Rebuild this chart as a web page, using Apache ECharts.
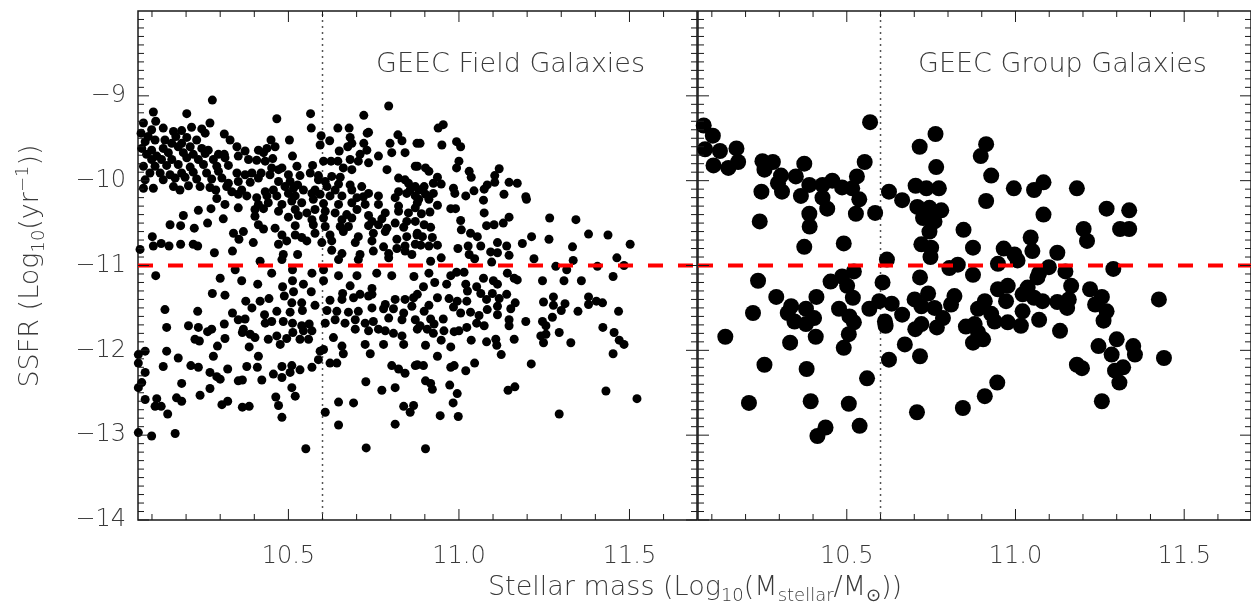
<!DOCTYPE html>
<html>
<head>
<meta charset="utf-8">
<title>GEEC SSFR vs stellar mass</title>
<script src="https://cdn.jsdelivr.net/npm/echarts@6/dist/echarts.min.js"></script>
<style>
  html, body { margin: 0; padding: 0; background: #ffffff; }
  #chart { width: 1251px; height: 608px; }
</style>
</head>
<body>
<div id="chart"></div>
<script>
// ---- axis ranges and ticks ----
const massRange = [10.059, 11.698];
const ssfrRange = [-14, -8];
const massMajorTicks = [10.5, 11.0, 11.5];
const massMinorTicks = [10.1, 10.2, 10.3, 10.4, 10.6, 10.7, 10.8, 10.9, 11.1, 11.2, 11.3, 11.4, 11.6];
const ssfrMajorTicks = [-14, -13, -12, -11, -10, -9];
const ssfrMinorTicks = [
  -13.9, -13.8, -13.7, -13.6, -13.5, -13.4, -13.3, -13.2, -13.1,
  -12.9, -12.8, -12.7, -12.6, -12.5, -12.4, -12.3, -12.2, -12.1,
  -11.9, -11.8, -11.7, -11.6, -11.5, -11.4, -11.3, -11.2, -11.1,
  -10.9, -10.8, -10.7, -10.6, -10.5, -10.4, -10.3, -10.2, -10.1,
  -9.9, -9.8, -9.7, -9.6, -9.5, -9.4, -9.3, -9.2, -9.1,
  -8.9, -8.8, -8.7, -8.6, -8.5, -8.4, -8.3, -8.2, -8.1
];

// ---- reference cuts ----
const massCut = 10.6;   // dotted vertical line
const ssfrCut = -11;    // red dashed line (passive / star-forming divide)

const panelTitles = ['GEEC Field Galaxies', 'GEEC Group Galaxies'];

// ---- field galaxies: [log stellar mass, log SSFR] ----
const fieldGalaxies = [
  [10.277,-9.05],[10.794,-9.12],[10.104,-9.19],[10.202,-9.21],[10.565,-9.21],[10.721,-9.23],[10.466,-9.27],[10.075,-9.32],[10.111,-9.30],[10.270,-9.32],
  [10.099,-9.40],[10.133,-9.38],[10.163,-9.42],[10.187,-9.41],[10.216,-9.37],[10.246,-9.39],[10.567,-9.38],[10.645,-9.38],[10.678,-9.38],
  [10.068,-9.44],[10.089,-9.48],[10.170,-9.48],[10.202,-9.49],[10.256,-9.44],[10.312,-9.45],[10.596,-9.47],[10.681,-9.49],[10.731,-9.44],[10.821,-9.46],[10.735,-9.43],
  [10.080,-9.54],[10.109,-9.52],[10.138,-9.52],[10.158,-9.56],[10.187,-9.56],[10.231,-9.52],[10.329,-9.52],[10.449,-9.52],[10.503,-9.52],[10.621,-9.53],[10.593,-9.58],[10.686,-9.56],[10.721,-9.56],[10.798,-9.56],[10.833,-9.53],[10.877,-9.56],
  [10.070,-9.62],[10.099,-9.64],[10.133,-9.62],[10.177,-9.60],[10.212,-9.60],[10.246,-9.62],[10.265,-9.64],[10.349,-9.60],[10.412,-9.64],[10.437,-9.62],[10.461,-9.60],[10.674,-9.60],[10.730,-9.64],[10.649,-9.65],
  [10.084,-9.69],[10.114,-9.71],[10.148,-9.67],[10.192,-9.67],[10.221,-9.69],[10.256,-9.68],[10.295,-9.69],[10.312,-9.69],[10.373,-9.65],[10.353,-9.71],[10.427,-9.67],[10.710,-9.69],[10.764,-9.71],[10.842,-9.67],[10.803,-9.67],
  [10.099,-9.75],[10.128,-9.75],[10.158,-9.75],[10.202,-9.73],[10.236,-9.75],[10.280,-9.75],[10.314,-9.73],[10.383,-9.75],[10.407,-9.76],[10.432,-9.77],[10.454,-9.74],[10.512,-9.71],[10.603,-9.77],[10.625,-9.77],[10.645,-9.77],[10.681,-9.75],[10.705,-9.77],
  [10.075,-9.83],[10.109,-9.83],[10.143,-9.82],[10.177,-9.81],[10.212,-9.84],[10.251,-9.81],[10.290,-9.83],[10.324,-9.82],[10.451,-9.85],[10.481,-9.85],[10.525,-9.83],[10.571,-9.82],[10.661,-9.85],[10.686,-9.87],[10.789,-9.87],[10.735,-9.79],[10.872,-9.83],
  [10.094,-9.91],[10.124,-9.91],[10.153,-9.93],[10.187,-9.91],[10.221,-9.90],[10.260,-9.91],[10.295,-9.89],[10.349,-9.91],[10.373,-9.93],[10.393,-9.91],[10.420,-9.91],[10.446,-9.93],[10.471,-9.87],[10.500,-9.93],[10.534,-9.94],[10.564,-9.91],[10.588,-9.94],[10.627,-9.95],[10.652,-9.96],[10.823,-9.97],[10.842,-9.99],
  [10.080,-9.99],[10.133,-9.99],[10.168,-9.97],[10.197,-9.96],[10.231,-9.98],[10.275,-9.98],[10.305,-9.97],[10.324,-10.03],[10.353,-10.01],[10.388,-10.02],[10.412,-9.97],[10.471,-10.01],[10.505,-10.01],[10.527,-10.05],[10.588,-9.99],[10.608,-10.01],[10.647,-10.04],[10.681,-10.05],[10.715,-10.07],[10.852,-10.03],[10.872,-10.07],
  [10.075,-10.09],[10.104,-10.09],[10.163,-10.07],[10.182,-10.11],[10.207,-10.06],[10.241,-10.07],[10.270,-10.08],[10.287,-10.11],[10.319,-10.07],[10.334,-10.13],[10.363,-10.11],[10.432,-10.13],[10.456,-10.11],[10.490,-10.07],[10.515,-10.09],[10.544,-10.11],[10.578,-10.11],[10.613,-10.07],[10.637,-10.11],[10.686,-10.11],[10.735,-10.15],[10.823,-10.13],[10.857,-10.11],
  [10.290,-10.21],[10.353,-10.16],[10.378,-10.18],[10.407,-10.20],[10.437,-10.18],[10.466,-10.18],[10.500,-10.15],[10.520,-10.18],[10.569,-10.15],[10.593,-10.16],[10.622,-10.18],[10.657,-10.18],[10.701,-10.20],[10.720,-10.19],[10.764,-10.18],[10.813,-10.20],[10.847,-10.15],[10.872,-10.18],[10.882,-10.22],
  [10.412,-10.28],[10.441,-10.26],[10.481,-10.28],[10.510,-10.24],[10.539,-10.26],[10.573,-10.22],[10.603,-10.27],[10.647,-10.28],[10.686,-10.26],[10.725,-10.28],[10.764,-10.28],[10.823,-10.30],[10.872,-10.32],[10.353,-10.32],[10.314,-10.28],
  [10.236,-10.35],[10.273,-10.33],[10.402,-10.34],[10.427,-10.33],[10.471,-10.36],[10.520,-10.34],[10.554,-10.38],[10.578,-10.34],[10.608,-10.36],[10.637,-10.38],[10.671,-10.40],[10.701,-10.34],[10.735,-10.41],[10.784,-10.38],[10.823,-10.36],[10.852,-10.38],
  [10.192,-10.41],[10.309,-10.45],[10.402,-10.42],[10.500,-10.43],[10.529,-10.41],[10.569,-10.46],[10.603,-10.44],[10.657,-10.46],[10.686,-10.44],[10.745,-10.48],[10.774,-10.45],[10.813,-10.50],[10.847,-10.48],[10.872,-10.48],
  [10.153,-10.52],[10.184,-10.53],[10.224,-10.56],[10.263,-10.50],[10.412,-10.52],[10.461,-10.56],[10.520,-10.53],[10.573,-10.52],[10.608,-10.54],[10.652,-10.54],[10.676,-10.54],[10.735,-10.53],[10.764,-10.52],[10.789,-10.56],[10.838,-10.55],
  [10.101,-10.66],[10.339,-10.62],[10.368,-10.60],[10.427,-10.57],[10.481,-10.64],[10.520,-10.64],[10.539,-10.67],[10.578,-10.62],[10.622,-10.64],[10.661,-10.60],[10.705,-10.66],[10.749,-10.62],[10.784,-10.60],[10.818,-10.69],[10.847,-10.66],[10.877,-10.64],
  [10.104,-10.77],[10.127,-10.74],[10.150,-10.77],[10.184,-10.75],[10.221,-10.75],[10.234,-10.77],[10.355,-10.69],[10.397,-10.73],[10.471,-10.75],[10.495,-10.71],[10.554,-10.71],[10.598,-10.73],[10.627,-10.71],[10.696,-10.73],[10.745,-10.71],[10.779,-10.78],[10.842,-10.77],[10.872,-10.75],
  [10.065,-10.81],[10.283,-10.85],[10.336,-10.83],[10.485,-10.87],[10.527,-10.87],[10.627,-10.82],[10.657,-10.86],[10.710,-10.87],[10.749,-10.83],[10.794,-10.86],[10.818,-10.80],[10.842,-10.83],[10.862,-10.87],
  [10.417,-10.95],[10.481,-10.93],[10.647,-10.93],[10.705,-10.93],[10.794,-10.91],
  [10.939,-9.38],[10.954,-9.34],[10.886,-9.56],[10.950,-9.58],[10.993,-9.54],[11.005,-9.60],[11.000,-9.77],[10.993,-9.85],[10.878,-9.83],[10.902,-9.85],
  [10.912,-9.89],[11.030,-9.89],[11.036,-9.96],[11.118,-9.86],[11.105,-9.94],[10.937,-9.96],[10.948,-10.04],[10.925,-10.03],[10.898,-10.07],[10.883,-10.11],
  [10.902,-10.16],[10.925,-10.15],[10.984,-10.09],[10.988,-10.15],[11.044,-10.12],[11.074,-10.10],[11.083,-10.05],[11.105,-10.02],[11.147,-10.02],[11.171,-10.03],
  [11.132,-10.16],[11.196,-10.19],[11.198,-10.22],[11.020,-10.18],[11.072,-10.23],[10.878,-10.26],[10.912,-10.22],[10.937,-10.29],[10.976,-10.33],[10.990,-10.33],
  [10.890,-10.39],[10.915,-10.37],[11.074,-10.38],[11.147,-10.43],[11.266,-10.44],[11.343,-10.46],[11.005,-10.47],[10.898,-10.52],[10.917,-10.55],[11.081,-10.53],
  [11.103,-10.52],[11.130,-10.50],[11.007,-10.58],[11.034,-10.62],[11.054,-10.66],[10.878,-10.62],[10.893,-10.66],[10.922,-10.67],[10.937,-10.76],[10.912,-10.77],
  [10.888,-10.76],[10.997,-10.80],[11.027,-10.77],[11.064,-10.77],[11.113,-10.73],[11.140,-10.77],[11.186,-10.74],[11.213,-10.66],[11.264,-10.69],[11.380,-10.63],
  [11.437,-10.64],[11.502,-10.75],[11.333,-10.78],[11.030,-10.87],[11.093,-10.84],[11.113,-10.85],[11.147,-10.88],[10.948,-10.91],[10.917,-10.95],[11.046,-10.92],
  [11.220,-10.92],[11.335,-10.94],[11.463,-10.91],[11.096,-10.96],[11.284,-11.01],[11.406,-11.01],[11.484,-11.00],
  [10.111,-11.12],[10.300,-11.15],[10.344,-11.05],[10.451,-11.09],[10.512,-11.05],[10.569,-11.09],[10.603,-11.05],[10.647,-11.12],[10.701,-11.12],[10.759,-11.09],
  [10.803,-11.12],[10.868,-11.13],[10.363,-11.18],[10.410,-11.22],[10.483,-11.25],[10.512,-11.18],[10.544,-11.22],[10.603,-11.18],[10.681,-11.24],[10.745,-11.27],
  [10.277,-11.33],[10.314,-11.35],[10.515,-11.31],[10.567,-11.31],[10.659,-11.33],[10.710,-11.34],[10.735,-11.36],[10.745,-11.34],[10.375,-11.42],[10.417,-11.42],
  [10.443,-11.39],[10.488,-11.36],[10.510,-11.44],[10.539,-11.44],[10.622,-11.41],[10.657,-11.40],[10.691,-11.38],[10.784,-11.46],[10.813,-11.40],[10.842,-11.40],
  [10.867,-11.38],[10.138,-11.52],[10.234,-11.54],[10.336,-11.56],[10.393,-11.50],[10.430,-11.58],[10.466,-11.54],[10.505,-11.55],[10.541,-11.53],[10.578,-11.47],
  [10.613,-11.53],[10.642,-11.54],[10.676,-11.55],[10.705,-11.54],[10.745,-11.50],[10.779,-11.51],[10.808,-11.51],[10.838,-11.56],[10.862,-11.48],[10.207,-11.71],
  [10.143,-11.73],[10.236,-11.73],[10.275,-11.75],[10.312,-11.69],[10.353,-11.64],[10.373,-11.63],[10.368,-11.75],[10.432,-11.68],[10.451,-11.66],[10.485,-11.66],
  [10.512,-11.68],[10.539,-11.71],[10.561,-11.69],[10.608,-11.68],[10.637,-11.64],[10.666,-11.68],[10.696,-11.64],[10.725,-11.68],[10.749,-11.66],[10.764,-11.75],
  [10.794,-11.62],[10.833,-11.64],[10.872,-11.64],[10.263,-11.78],[10.365,-11.79],[10.388,-11.81],[10.402,-11.85],[10.466,-11.83],[10.495,-11.86],[10.513,-11.79],
  [10.544,-11.77],[10.569,-11.77],[10.696,-11.75],[10.735,-11.77],[10.784,-11.77],[10.808,-11.80],[10.833,-11.83],[10.226,-11.87],[10.239,-11.89],[10.314,-11.86],
  [10.441,-11.87],[10.476,-11.93],[10.534,-11.87],[10.559,-11.87],[10.632,-11.85],[10.657,-11.95],[10.725,-11.93],[10.779,-11.93],[10.838,-11.93],[10.060,-12.05],
  [10.080,-12.01],[10.143,-12.01],[10.292,-11.95],[10.385,-11.96],[10.280,-12.07],[10.412,-12.07],[10.593,-12.01],[10.603,-11.99],[10.661,-12.04],[10.740,-12.04],
  [10.177,-12.09],[10.060,-12.15],[10.133,-12.19],[10.214,-12.18],[10.236,-12.20],[10.322,-12.22],[10.378,-12.19],[10.409,-12.20],[10.481,-12.19],[10.510,-12.18],
  [10.534,-12.23],[10.569,-12.20],[10.588,-12.11],[10.622,-12.15],[10.642,-12.15],[10.803,-12.18],[10.823,-12.22],[10.842,-12.27],[10.872,-12.18],[10.080,-12.26],
  [10.270,-12.26],[10.290,-12.31],[10.300,-12.34],[10.353,-12.36],[10.365,-12.35],[10.422,-12.35],[10.456,-12.28],[10.481,-12.32],[10.505,-12.26],[10.070,-12.38],
  [10.187,-12.39],[10.727,-12.37],[10.060,-12.44],[10.270,-12.45],[10.510,-12.44],[10.520,-12.54],[10.241,-12.53],[10.463,-12.55],[10.774,-12.47],[10.813,-12.44],
  [10.080,-12.58],[10.114,-12.57],[10.172,-12.56],[10.187,-12.60],[10.305,-12.64],[10.322,-12.60],[10.471,-12.65],[10.647,-12.61],[10.691,-12.62],[10.109,-12.66],
  [10.127,-12.66],[10.365,-12.67],[10.385,-12.66],[10.146,-12.75],[10.481,-12.79],[10.608,-12.73],[10.838,-12.66],[10.857,-12.73],[10.867,-12.65],[10.060,-12.97],
  [10.099,-13.01],[10.168,-12.98],[10.647,-12.88],[10.813,-12.87],[10.551,-13.16],[10.728,-13.15],
  [10.912,-11.09],[10.976,-11.12],[10.993,-11.08],[11.015,-11.08],[11.072,-11.15],[11.101,-11.18],[11.113,-11.22],[11.142,-11.09],[11.162,-11.15],[11.171,-11.17],
  [11.245,-11.18],[11.308,-11.18],[11.359,-11.18],[11.452,-11.13],[11.316,-11.05],[10.896,-11.25],[10.929,-11.20],[10.964,-11.22],[11.020,-11.22],[11.025,-11.30],
  [11.052,-11.25],[11.064,-11.33],[11.081,-11.40],[11.098,-11.33],[11.118,-11.39],[11.140,-11.34],[11.165,-11.44],[10.878,-11.34],[10.937,-11.38],[10.971,-11.39],
  [10.995,-11.42],[10.984,-11.49],[11.023,-11.42],[11.005,-11.56],[11.034,-11.55],[11.059,-11.59],[11.083,-11.52],[11.113,-11.48],[11.113,-11.58],[11.152,-11.51],
  [10.912,-11.47],[10.898,-11.54],[10.917,-11.63],[10.954,-11.63],[11.248,-11.43],[11.277,-11.37],[11.277,-11.47],[11.311,-11.45],[11.300,-11.53],[11.349,-11.54],
  [11.380,-11.37],[11.380,-11.46],[11.403,-11.42],[11.421,-11.44],[11.468,-11.54],[11.274,-11.61],[11.245,-11.66],[11.255,-11.71],[11.196,-11.66],[11.147,-11.64],
  [11.147,-11.71],[11.074,-11.71],[11.052,-11.68],[11.023,-11.73],[11.000,-11.77],[10.986,-11.78],[10.956,-11.77],[10.927,-11.69],[10.886,-11.71],[10.907,-11.75],
  [10.925,-11.80],[11.240,-11.83],[11.255,-11.81],[11.248,-11.91],[11.294,-11.79],[11.328,-11.91],[11.422,-11.73],[11.455,-11.79],[11.470,-11.88],[11.484,-11.93],
  [10.878,-11.75],[10.948,-11.88],[11.036,-11.88],[11.081,-11.90],[11.108,-11.87],[11.111,-11.94],[11.162,-11.87],[10.902,-11.94],[10.976,-11.96],[11.124,-12.05],
  [10.937,-12.07],[11.452,-12.04],[11.212,-12.16],[11.046,-12.15],[11.020,-12.24],[10.976,-12.20],[10.986,-12.18],[10.878,-12.17],[10.896,-12.18],[10.902,-12.36],
  [10.922,-12.46],[10.917,-12.39],[10.973,-12.41],[10.995,-12.51],[10.983,-12.62],[11.144,-12.47],[11.164,-12.43],[11.431,-12.48],[11.522,-12.57],[10.945,-12.77],
  [10.998,-12.78],[11.294,-12.75],[10.902,-13.16]
];

// ---- group galaxies: [log stellar mass, log SSFR] ----
const groupGalaxies = [
  [10.076,-9.35],[10.103,-9.47],[10.080,-9.63],[10.124,-9.65],[10.173,-9.62],[10.178,-9.78],[10.105,-9.82],[10.149,-9.85],[10.250,-9.77],[10.281,-9.78],
  [10.256,-9.87],[10.305,-9.94],[10.296,-10.03],[10.349,-9.95],[10.374,-9.80],[10.308,-10.13],[10.364,-10.18],[10.389,-10.05],[10.428,-10.05],[10.457,-10.00],
  [10.486,-10.08],[10.530,-9.95],[10.516,-10.09],[10.428,-10.20],[10.442,-10.33],[10.537,-10.22],[10.527,-10.39],[10.553,-9.78],[10.569,-9.31],[10.584,-10.38],
  [10.247,-10.13],[10.242,-10.48],[10.389,-10.39],[10.390,-10.54],[10.374,-10.78],[10.491,-10.74],[10.625,-10.13],[10.664,-10.23],[10.716,-9.60],[10.763,-9.45],
  [10.765,-9.84],[10.704,-10.06],[10.736,-10.09],[10.773,-10.09],[10.709,-10.31],[10.745,-10.32],[10.780,-10.35],[10.726,-10.44],[10.760,-10.48],[10.745,-10.60],
  [10.721,-10.75],[10.750,-10.79],[10.748,-10.90],[10.619,-10.93],[10.846,-10.58],[10.829,-10.99],[10.804,-11.03],
  [10.237,-11.18],[10.291,-11.37],[10.410,-11.37],[10.452,-11.19],[10.486,-11.13],[10.521,-11.07],[10.501,-11.24],[10.518,-11.38],[10.477,-11.51],[10.508,-11.60],
  [10.521,-11.67],[10.506,-11.81],[10.491,-11.97],[10.408,-11.84],[10.332,-11.91],[10.335,-11.48],[10.325,-11.56],[10.345,-11.66],[10.379,-11.51],[10.403,-11.62],
  [10.379,-11.69],[10.222,-11.56],[10.140,-11.84],[10.256,-12.17],[10.381,-12.22],[10.560,-12.33],[10.606,-11.20],[10.596,-11.42],[10.633,-11.45],[10.664,-11.58],
  [10.567,-11.51],[10.613,-11.66],[10.615,-11.71],[10.672,-11.93],[10.625,-12.11],[10.717,-12.07],[10.717,-11.14],[10.701,-11.40],[10.741,-11.33],[10.760,-11.50],
  [10.721,-11.48],[10.785,-11.62],[10.809,-11.46],[10.819,-11.36],[10.767,-11.73],[10.703,-11.75],[10.721,-11.69],[10.853,-11.72],
  [10.210,-12.62],[10.393,-12.60],[10.506,-12.63],[10.437,-12.91],[10.413,-13.01],[10.538,-12.89],[10.708,-12.73],[10.844,-12.68],
  [10.913,-9.57],[10.897,-9.71],[10.928,-9.94],[10.913,-10.24],[10.995,-10.09],[11.055,-10.11],[11.083,-10.02],[11.182,-10.09],[11.083,-10.40],[11.270,-10.33],
  [11.337,-10.35],[11.310,-10.57],[11.337,-10.57],[11.202,-10.57],[11.212,-10.71],[11.045,-10.67],[11.050,-10.83],[10.965,-10.80],[10.997,-10.87],[11.006,-10.94],
  [10.948,-10.98],[10.874,-10.79],[10.874,-11.11],[11.124,-10.85],[11.099,-11.02],[11.070,-11.09],[11.065,-11.14],[11.148,-11.07],[11.165,-11.24],[11.290,-11.04],
  [11.221,-11.28],[11.256,-11.37],[11.236,-11.46],[11.270,-11.54],[11.261,-11.65],[11.425,-11.40],[10.948,-11.28],[10.977,-11.24],[11.036,-11.26],[11.021,-11.34],
  [10.972,-11.42],[10.909,-11.42],[10.889,-11.51],[10.928,-11.57],[10.977,-11.67],[11.021,-11.54],[11.016,-11.71],[11.055,-11.38],[11.080,-11.42],[11.070,-11.64],
  [11.124,-11.43],[11.158,-11.40],[11.153,-11.50],[10.938,-11.66],[10.879,-11.69],[10.889,-11.79],[10.904,-11.87],[10.874,-11.91],[11.132,-11.77],[11.246,-11.95],
  [11.300,-11.87],[11.349,-11.95],[11.354,-12.05],[11.285,-12.05],[11.295,-12.24],[11.319,-12.20],[11.308,-12.38],[11.440,-12.09],[11.182,-12.17],[11.197,-12.21],
  [10.946,-12.38],[10.909,-12.54],[11.256,-12.60]
];

// ---- styling ----
const FONT = "'DejaVu Sans', 'Liberation Sans', sans-serif";
const THIN = 200;
const INK = '#1a1a1a';
const TEXT = '#3a3a3a';
const MAJOR_LEN = 11;
const MINOR_LEN = 6;

// One value axis per panel; the frame itself comes from the grid border.
function massAxis(grid) {
  return {
    gridIndex: grid, type: 'value', min: massRange[0], max: massRange[1], position: 'bottom',
    splitLine: { show: false }, axisLine: { show: false }, axisTick: { show: false },
    axisLabel: {
      show: true, customValues: massMajorTicks, margin: 25,
      formatter: v => v.toFixed(1),
      fontFamily: FONT, fontWeight: THIN, fontSize: 24, color: TEXT
    }
  };
}

function ssfrAxis(grid, withLabels) {
  return {
    gridIndex: grid, type: 'value', min: ssfrRange[0], max: ssfrRange[1], position: 'left',
    splitLine: { show: false }, axisLine: { show: false }, axisTick: { show: false },
    axisLabel: {
      show: withLabels, customValues: ssfrMajorTicks, margin: 12,
      formatter: v => '\u2212' + Math.abs(v),
      padding: [5, 0, 0, 0],
      fontFamily: FONT, fontWeight: THIN, fontSize: 24, color: TEXT
    }
  };
}

// Inward tick marks on all four sides of a panel, placed through the axis scales.
function tickMarks(grid, values, dim, len) {
  return {
    type: 'custom', xAxisIndex: grid, yAxisIndex: grid, z: 5, silent: true, clip: false,
    data: values.map(v => dim === 'x' ? [v, ssfrRange[0]] : [massRange[0], v]),
    renderItem(params, api) {
      const style = { stroke: INK, lineWidth: 1 };
      if (dim === 'x') {
        const v = api.value(0);
        const lo = api.coord([v, ssfrRange[0]]);
        const hi = api.coord([v, ssfrRange[1]]);
        return { type: 'group', children: [
          { type: 'line', shape: { x1: lo[0], y1: lo[1], x2: lo[0], y2: lo[1] - len }, style },
          { type: 'line', shape: { x1: hi[0], y1: hi[1], x2: hi[0], y2: hi[1] + len }, style }
        ] };
      }
      const v = api.value(1);
      const l = api.coord([massRange[0], v]);
      const r = api.coord([massRange[1], v]);
      return { type: 'group', children: [
        { type: 'line', shape: { x1: l[0], y1: l[1], x2: l[0] + len, y2: l[1] }, style },
        { type: 'line', shape: { x1: r[0], y1: r[1], x2: r[0] - len, y2: r[1] }, style }
      ] };
    }
  };
}

function panelSeries(grid, points, dotSize) {
  return [
    {
      type: 'line', xAxisIndex: grid, yAxisIndex: grid, z: 1,
      data: [[massCut, ssfrRange[0]], [massCut, ssfrRange[1]]],
      symbol: 'none', silent: true,
      lineStyle: { color: '#555', width: 1.5, type: [2, 4] }
    },
    {
      type: 'scatter', xAxisIndex: grid, yAxisIndex: grid, z: 2,
      data: points, symbol: 'circle', symbolSize: dotSize, silent: true,
      itemStyle: { color: '#000', opacity: 1 }
    },
    {
      type: 'line', xAxisIndex: grid, yAxisIndex: grid, z: 3,
      data: [[massRange[0], ssfrCut], [massRange[1], ssfrCut]],
      symbol: 'none', silent: true,
      lineStyle: { color: '#ff0000', width: 4, type: [15, 15] }
    },
    tickMarks(grid, massMajorTicks, 'x', MAJOR_LEN),
    tickMarks(grid, massMinorTicks, 'x', MINOR_LEN),
    tickMarks(grid, ssfrMajorTicks, 'y', MAJOR_LEN),
    tickMarks(grid, ssfrMinorTicks, 'y', MINOR_LEN)
  ];
}

const richText = {
  t: { fontFamily: FONT, fontWeight: THIN, fontSize: 27, lineHeight: 34, verticalAlign: 'middle', fill: TEXT, color: TEXT },
  s: { fontFamily: FONT, fontWeight: THIN, fontSize: 18, lineHeight: 18, verticalAlign: 'bottom', fill: TEXT, color: TEXT },
  p: { fontFamily: FONT, fontWeight: THIN, fontSize: 18, lineHeight: 18, verticalAlign: 'top', fill: TEXT, color: TEXT }
};

const chart = echarts.init(document.getElementById('chart'), null, { renderer: 'canvas' });
chart.setOption({
  animation: false,
  backgroundColor: '#ffffff',
  grid: [
    { left: 138, top: 11, width: 559, height: 509, show: true, borderColor: INK, borderWidth: 1.5, backgroundColor: 'transparent' },
    { left: 698, top: 11, width: 559, height: 509, show: true, borderColor: INK, borderWidth: 1.5, backgroundColor: 'transparent' }
  ],
  xAxis: [massAxis(0), massAxis(1)],
  yAxis: [ssfrAxis(0, true), ssfrAxis(1, false)],
  series: panelSeries(0, fieldGalaxies, 9).concat(panelSeries(1, groupGalaxies, 16)),
  graphic: [
    {
      type: 'text', left: 376, top: 51, z: 10,
      style: { text: panelTitles[0], fontFamily: FONT, fontWeight: THIN, fontSize: 27, fill: TEXT }
    },
    {
      type: 'text', left: 918, top: 51, z: 10,
      style: { text: panelTitles[1], fontFamily: FONT, fontWeight: THIN, fontSize: 27, fill: TEXT }
    },
    {
      type: 'text', x: 31, y: 266, rotation: Math.PI / 2, z: 10,
      style: {
        text: '{t|SSFR (Log}{s|10}{t|(yr}{p|\u22121}{t|))}',
        rich: richText, align: 'center', verticalAlign: 'middle',
        textAlign: 'center', textVerticalAlign: 'middle'
      }
    },
    {
      type: 'text', x: 695, y: 588, z: 10,
      style: {
        text: '{t|Stellar mass (Log}{s|10}{t|(M}{s|stellar}{t|/M}{s|\u2299}{t|))}',
        rich: richText, align: 'center', verticalAlign: 'middle',
        textAlign: 'center', textVerticalAlign: 'middle'
      }
    }
  ]
});
</script>
</body>
</html>
